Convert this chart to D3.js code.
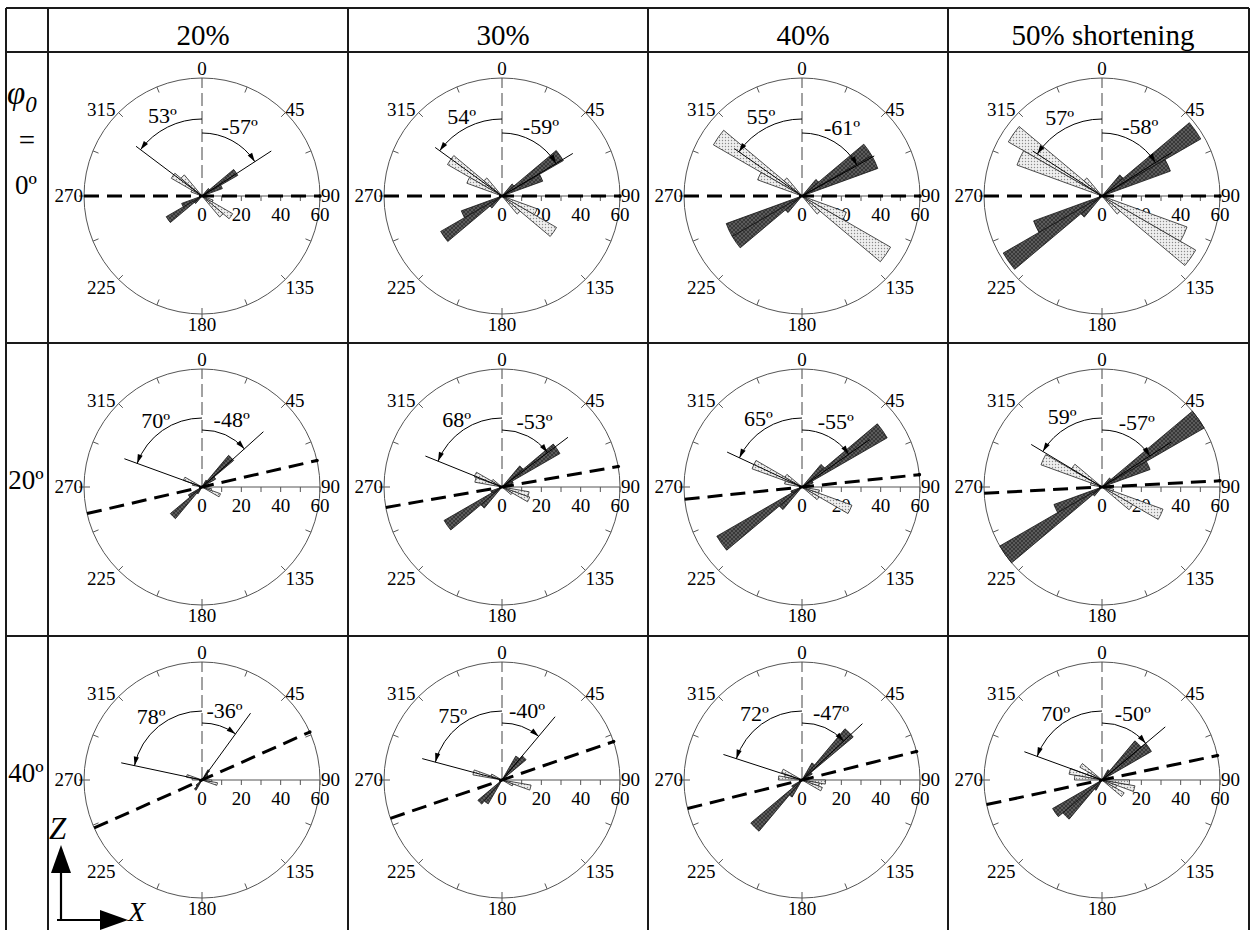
<!DOCTYPE html>
<html><head><meta charset="utf-8">
<script src="https://cdn.jsdelivr.net/npm/d3@7"></script>
<style>html,body{margin:0;padding:0;background:#fff}svg{display:block}text{font-family:"Liberation Serif","Times New Roman",serif;fill:#000}</style>
</head><body><div id="chart"></div>
<script>
// ---------------- data ----------------
const colLabels = ["20%", "30%", "40%", "50% shortening"];
const rowLabels = ["0º", "20º", "40º"];
// clockwise mean direction (label shown as negative)
const neAngles = [[57, 59, 61, 58], [48, 53, 55, 57], [36, 40, 47, 50]];
// counter-clockwise mean direction
const nwAngles = [[53, 54, 55, 57], [70, 68, 65, 59], [78, 75, 72, 70]];
// azimuth of the thick dashed reference line
const refAzimuth = [[90, 90, 90, 90], [77, 80, 84, 87], [66, 71, 76, 78]];
// petals: [bin start azimuth (10° bins), value]; drawn with the axial (+180°) partner
const darkPetals = [
  [[[50, 21], [60, 11], [40, 5]], [[50, 36], [60, 22], [40, 8]], [[50, 41], [60, 41], [40, 11]], [[50, 58], [60, 37], [40, 14]]],
  [[[40, 21], [50, 8], [30, 4]], [[50, 34], [40, 14], [60, 6]], [[50, 50], [40, 15], [60, 6]], [[50, 60], [60, 26], [40, 6]]],
  [[[30, 6], [40, 4]], [[40, 16], [30, 14]], [[40, 34], [30, 10], [50, 6]], [[50, 29], [40, 26], [30, 6]]]
];
const lightPetals = [
  [[[300, 18], [310, 14], [290, 6]], [[300, 32], [290, 19], [310, 12]], [[300, 52], [290, 24], [310, 12]], [[300, 55], [290, 46], [310, 12]]],
  [[[290, 10], [280, 5]], [[290, 15], [280, 14], [300, 6]], [[290, 27], [280, 9], [300, 10]], [[290, 33], [300, 18], [280, 6]]],
  [[[280, 8], [270, 5]], [[280, 15], [290, 6]], [[270, 12], [280, 9], [290, 11]], [[280, 17], [270, 14], [300, 13], [290, 8]]]
];
const ringLabels = [0, 45, 90, 135, 180, 225, 270, 315];
const radialTickLabels = [0, 20, 40, 60];
const radialMax = 60;
const meanLineValue = 42;

// ---------------- layout ----------------
const W = 1251, H = 930;
const colX = [48, 348, 648, 948, 1249];
const rowY = [8, 52, 343, 636, 930];
const leftX = 6;
const R = 118;
const rad = d => d * Math.PI / 180;
const rScale = d3.scaleLinear().domain([0, radialMax]).range([0, R]);

const svg = d3.select("#chart").append("svg").attr("width", W).attr("height", H);
svg.append("rect").attr("width", W).attr("height", H).attr("fill", "#fff");

const defs = svg.append("defs");
const pd = defs.append("pattern").attr("id", "darkHatch").attr("patternUnits", "userSpaceOnUse").attr("width", 4).attr("height", 4);
pd.append("rect").attr("width", 4).attr("height", 4).attr("fill", "#383838");
pd.append("path").attr("d", "M0,0L4,4M4,0L0,4").attr("stroke", "#6a6a6a").attr("stroke-width", 0.7);
const pl = defs.append("pattern").attr("id", "lightDots").attr("patternUnits", "userSpaceOnUse").attr("width", 3).attr("height", 3);
pl.append("rect").attr("width", 3).attr("height", 3).attr("fill", "#efefef");
pl.append("circle").attr("cx", 1.5).attr("cy", 1.5).attr("r", 0.7).attr("fill", "#8a8a8a");

// ---------------- table grid ----------------
const grid = svg.append("g").attr("stroke", "#1a1a1a").attr("stroke-width", 2);
[leftX, ...colX].forEach(x => grid.append("line").attr("x1", x).attr("x2", x).attr("y1", rowY[0]).attr("y2", H));
rowY.slice(0, 4).forEach(y => grid.append("line").attr("x1", leftX).attr("x2", colX[4]).attr("y1", y).attr("y2", y));

// headers
colLabels.forEach((t, j) => {
  svg.append("text").attr("x", colX[j] + 155).attr("y", 45).attr("text-anchor", "middle")
    .style("font-size", "29px").text(t);
});

// row labels
const lc = (leftX + colX[0]) / 2;
const phi = svg.append("text").attr("x", 7).attr("y", 104).style("font-style", "italic");
phi.append("tspan").style("font-size", "33px").text("φ");
phi.append("tspan").attr("dy", 8).style("font-size", "23px").text("0");
svg.append("text").attr("x", lc).attr("y", 150).attr("text-anchor", "middle").style("font-size", "29px").text("=");
rowLabels.forEach((t, i) => {
  const cy = rowY[i + 1] + 144;
  svg.append("text").attr("x", lc - 1).attr("y", cy + (i === 0 ? -2 : 2)).attr("text-anchor", "middle").style("font-size", "27px").text(t);
});

// Z / X axes glyph
const ax = svg.append("g");
ax.append("line").attr("x1", 61).attr("x2", 61).attr("y1", 921).attr("y2", 870).attr("stroke", "#000").attr("stroke-width", 2.2);
ax.append("path").attr("d", "M51,873L71,873L61,845Z").attr("fill", "#000");
ax.append("line").attr("x1", 57).attr("x2", 103).attr("y1", 920).attr("y2", 920).attr("stroke", "#000").attr("stroke-width", 2.2);
ax.append("path").attr("d", "M100,910L100,930L128,920Z").attr("fill", "#000");
ax.append("text").attr("x", 49).attr("y", 839).style("font-size", "31px").style("font-style", "italic").text("Z");
ax.append("text").attr("x", 128).attr("y", 921).style("font-size", "28px").style("font-style", "italic").text("X");

// ---------------- rose diagrams ----------------
const petalArc = d3.arc().innerRadius(0)
  .outerRadius(d => rScale(d.v))
  .startAngle(d => rad(d.a)).endAngle(d => rad(d.a + 10));
const axial = list => list.flatMap(([a, v]) => [{a, v}, {a: a + 180, v}]);
const pt = (az, r) => [r * Math.sin(rad(az)), -r * Math.cos(rad(az))];

for (let i = 0; i < 3; i++) {
  for (let j = 0; j < 4; j++) {
    const cx = colX[j] + 154, cy = rowY[i + 1] + 144;
    const g = svg.append("g").attr("transform", `translate(${cx},${cy})`);

    // outer circle
    g.append("circle").attr("r", R).attr("fill", "none").attr("stroke", "#555").attr("stroke-width", 1);
    // ring ticks every 22.5°
    d3.range(0, 360, 22.5).forEach(az => {
      if (az === 0 || az === 90) return;
      const card = az % 90 === 0;
      const [x1, y1] = pt(az, R - 6), [x2, y2] = pt(az, card ? R + 5 : R);
      g.append("line").attr("x1", x1).attr("y1", y1).attr("x2", x2).attr("y2", y2).attr("stroke", "#555").attr("stroke-width", 1);
    });
    // ring labels
    ringLabels.forEach(az => {
      const [px, py] = pt(az, R);
      const t = g.append("text").style("font-size", "19px").text(az);
      if (az === 0) t.attr("x", 0).attr("y", -R - 3).attr("text-anchor", "middle");
      else if (az === 180) t.attr("x", 0).attr("y", R + 17).attr("text-anchor", "middle");
      else if (az === 90) t.attr("x", R + 1).attr("y", 6);
      else if (az === 270) t.attr("x", -R - 1).attr("y", 6).attr("text-anchor", "end");
      else if (az === 45) t.attr("x", px).attr("y", py + 3);
      else if (az === 315) t.attr("x", px - 3).attr("y", py + 3).attr("text-anchor", "end");
      else if (az === 135) t.attr("x", px).attr("y", py + 15);
      else t.attr("x", px - 3).attr("y", py + 15).attr("text-anchor", "end");
    });
    // radial axis along 90°
    g.append("line").attr("x1", 0).attr("y1", 0).attr("x2", R).attr("y2", 0).attr("stroke", "#555").attr("stroke-width", 1);
    d3.range(10, radialMax + 1, 10).forEach(v => {
      g.append("line").attr("x1", rScale(v)).attr("x2", rScale(v)).attr("y1", 0).attr("y2", 5).attr("stroke", "#555").attr("stroke-width", 1);
    });
    radialTickLabels.forEach(v => {
      g.append("text").attr("x", rScale(v)).attr("y", 25).attr("text-anchor", "middle").style("font-size", "19px").text(v);
    });
    // thin dashed north line
    g.append("line").attr("x1", 0).attr("y1", 0).attr("x2", 0).attr("y2", -R)
      .attr("stroke", "#444").attr("stroke-width", 1).attr("stroke-dasharray", "13,5");

    // petals
    g.selectAll(".lp").data(axial(lightPetals[i][j])).join("path").attr("class", "lp")
      .attr("d", petalArc).attr("fill", "url(#lightDots)").attr("stroke", "#222").attr("stroke-width", 0.8);
    g.selectAll(".dp").data(axial(darkPetals[i][j])).join("path").attr("class", "dp")
      .attr("d", petalArc).attr("fill", "url(#darkHatch)").attr("stroke", "#111").attr("stroke-width", 0.8);

    // thick dashed reference line
    const ra = refAzimuth[i][j];
    const [ex, ey] = pt(ra, R), [sx, sy] = pt(ra + 180, R);
    g.append("line").attr("x1", sx).attr("y1", sy).attr("x2", ex).attr("y2", ey)
      .attr("stroke", "#000").attr("stroke-width", 3).attr("stroke-dasharray", "15,8");
    g.append("circle").attr("cx", ex).attr("cy", ey).attr("r", 1.8).attr("fill", "#000");

    // mean direction lines, arcs and labels
    const L = rScale(meanLineValue);
    const rNE = i === 0 ? 63 : 57, rNW = i === 0 ? 77 : 69;
    const specs = [
      {az: neAngles[i][j], r: rNE, cw: true, label: "-" + neAngles[i][j] + "º", lr: rNE + 16},
      {az: 360 - nwAngles[i][j], r: rNW, cw: false, label: nwAngles[i][j] + "º", lr: rNW + 12}
    ];
    specs.forEach(s => {
      const [lx, ly] = pt(s.az, L);
      g.append("line").attr("x1", 0).attr("y1", 0).attr("x2", lx).attr("y2", ly).attr("stroke", "#000").attr("stroke-width", 1);
      const theta = s.cw ? s.az : s.az - 360; // signed sweep from north
      const p = d3.path();
      const a0 = rad(-90), a1 = rad(theta - 90);
      p.moveTo(0, -s.r);
      p.arc(0, 0, s.r, a0, a1, !s.cw);
      g.append("path").attr("d", p.toString()).attr("fill", "none").attr("stroke", "#000").attr("stroke-width", 1);
      // arrowhead at the end of the arc
      const [tx, ty] = pt(s.az, s.r);
      const phiE = a1;
      let dx = -Math.sin(phiE), dy = Math.cos(phiE);
      if (!s.cw) { dx = -dx; dy = -dy; }
      const bx = tx - dx * 9, by = ty - dy * 9;
      const nx = -dy * 2.6, ny = dx * 2.6;
      g.append("path").attr("d", `M${tx},${ty}L${bx + nx},${by + ny}L${bx - nx},${by - ny}Z`).attr("fill", "#000");
      // label
      const [mx, my] = pt(theta / 2, s.lr);
      g.append("text").attr("x", mx).attr("y", my + 7).attr("text-anchor", "middle")
        .style("font-size", "22px").text(s.label);
    });
  }
}
</script>
</body></html>
